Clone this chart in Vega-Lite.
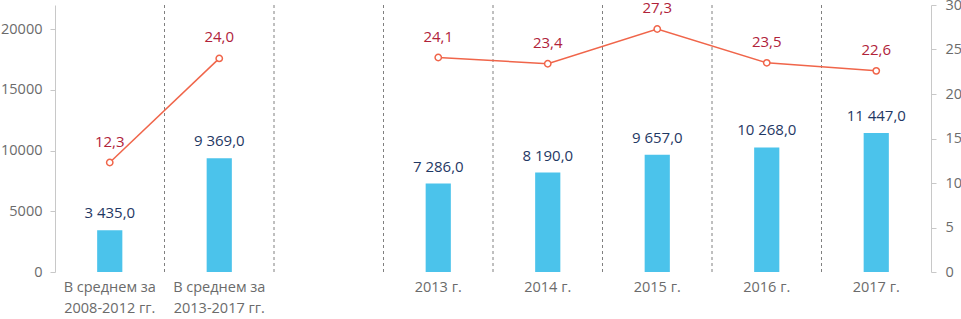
{
  "$schema": "https://vega.github.io/schema/vega-lite/v6.json",
  "width": 876,
  "height": 267,
  "autosize": {"type": "none"},
  "padding": {"left": 55, "top": 5, "right": 30, "bottom": 47},
  "config": {
    "view": {"stroke": null},
    "font": "Open Sans",
    "locale": {"number": {"decimal": ",", "thousands": " ", "grouping": [3], "currency": ["", ""]}},
    "axis": {
      "labelFont": "Open Sans",
      "labelFontSize": 14.5,
      "labelColor": "#6b6b6b",
      "domainColor": "#c8c8c8",
      "tickColor": "#c8c8c8",
      "grid": false,
      "title": null
    }
  },
  "data": {
    "values": [
      {"cat": "В среднем за|2008-2012 гг.", "amount": 3435, "pct": 12.3, "grp": "a"},
      {"cat": "В среднем за|2013-2017 гг.", "amount": 9369, "pct": 24.0, "grp": "a"},
      {"cat": "2013 г.", "amount": 7286, "pct": 24.1, "grp": "b"},
      {"cat": "2014 г.", "amount": 8190, "pct": 23.4, "grp": "b"},
      {"cat": "2015 г.", "amount": 9657, "pct": 27.3, "grp": "b"},
      {"cat": "2016 г.", "amount": 10268, "pct": 23.5, "grp": "b"},
      {"cat": "2017 г.", "amount": 11447, "pct": 22.6, "grp": "b"}
    ]
  },
  "encoding": {
    "x": {
      "field": "cat",
      "type": "nominal",
      "sort": null,
      "scale": {
        "domain": ["В среднем за|2008-2012 гг.", "В среднем за|2013-2017 гг.", "gap", "2013 г.", "2014 г.", "2015 г.", "2016 г.", "2017 г."],
        "paddingInner": 0,
        "paddingOuter": 0
      },
      "axis": {
        "labelAngle": 0,
        "domain": false,
        "ticks": false,
        "labelPadding": 8,
        "labelLineHeight": 21,
        "labelExpr": "datum.value == 'gap' ? '' : split(datum.value, '|')"
      }
    }
  },
  "layer": [
    {
      "data": {
        "values": [
          {"cat": "В среднем за|2008-2012 гг."},
          {"cat": "В среднем за|2013-2017 гг."},
          {"cat": "gap"},
          {"cat": "2013 г."},
          {"cat": "2014 г."},
          {"cat": "2015 г."},
          {"cat": "2016 г."}
        ]
      },
      "mark": {"type": "rule", "color": "#808080", "strokeDash": [3, 3], "strokeWidth": 1},
      "encoding": {
        "x": {"field": "cat", "type": "nominal", "bandPosition": 1}
      }
    },
    {
      "encoding": {
        "y": {
          "field": "amount",
          "type": "quantitative",
          "scale": {"domain": [0, 22000], "nice": false},
          "axis": {"orient": "left", "values": [0, 5000, 10000, 15000, 20000], "format": "d", "tickSize": 5, "labelPadding": 8}
        }
      },
      "layer": [
        {"mark": {"type": "bar", "color": "#4bc3eb", "width": {"band": 0.23}}},
        {
          "mark": {"type": "text", "color": "#1f3864", "fontSize": 15, "baseline": "alphabetic", "dy": -12},
          "encoding": {"text": {"field": "amount", "type": "quantitative", "format": ",.1f"}}
        }
      ]
    },
    {
      "encoding": {
        "y": {
          "field": "pct",
          "type": "quantitative",
          "scale": {"domain": [0, 30], "nice": false},
          "axis": {"orient": "right", "values": [0, 5, 10, 15, 20, 25, 30], "tickSize": 5, "labelPadding": 9}
        }
      },
      "layer": [
        {
          "mark": {"type": "line", "color": "#f0654a", "strokeWidth": 1.5},
          "encoding": {"detail": {"field": "grp"}}
        },
        {
          "mark": {"type": "point", "filled": true, "fill": "white", "stroke": "#f0654a", "strokeWidth": 1.5, "size": 40, "opacity": 1}
        },
        {
          "mark": {"type": "text", "color": "#b0233a", "fontSize": 15, "baseline": "alphabetic", "dy": -16},
          "encoding": {"text": {"field": "pct", "type": "quantitative", "format": ".1f"}}
        }
      ]
    }
  ],
  "resolve": {"scale": {"y": "independent"}}
}
